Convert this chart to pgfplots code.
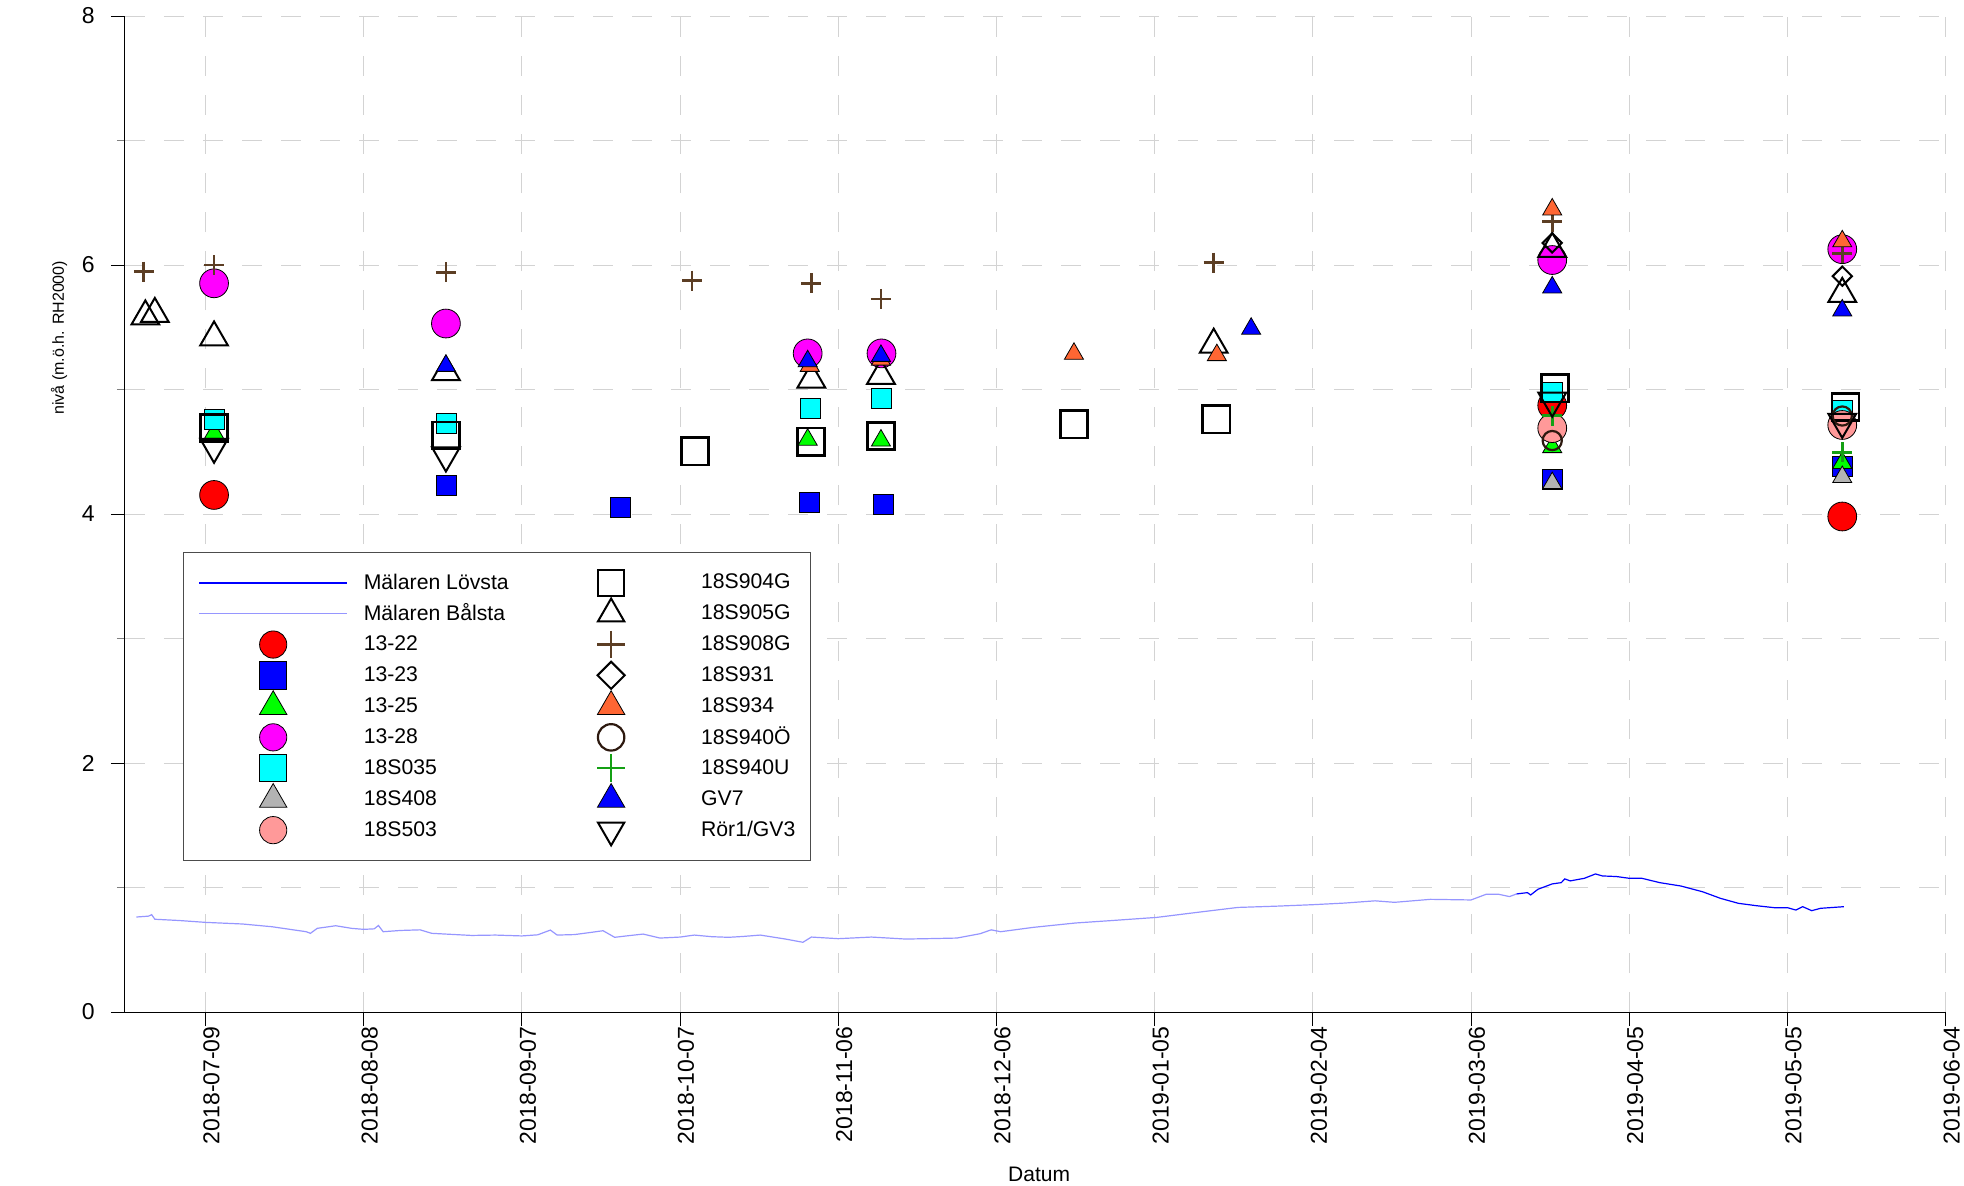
\documentclass[border=0pt]{standalone}
\usepackage{pgfplots}
\pgfplotsset{compat=1.18}
\usepackage{fontspec}
\setmainfont{Liberation Sans}
\definecolor{lovsta}{RGB}{0,0,255}
\definecolor{balsta}{RGB}{150,150,255}
\definecolor{gridc}{RGB}{211,211,211}
\definecolor{c1322}{RGB}{255,0,0}
\definecolor{c1323}{RGB}{0,0,255}
\definecolor{c1325}{RGB}{0,255,0}
\definecolor{c1328}{RGB}{255,0,255}
\definecolor{c035}{RGB}{0,255,255}
\definecolor{c408}{RGB}{179,179,179}
\definecolor{c503}{RGB}{255,153,153}
\definecolor{c908}{RGB}{92,62,36}
\definecolor{c934}{RGB}{255,102,51}
\definecolor{c940o}{RGB}{45,25,15}
\definecolor{c940u}{RGB}{20,160,20}
\definecolor{cgv7}{RGB}{0,0,255}
\pgfplotsset{
  legmark/.style={legend image code/.code={\path[draw=none,fill=none] (0pt,-7.7pt) rectangle (74pt,7.7pt); \draw[##1] plot coordinates {(37pt,0pt)};}},
  legline/.style={legend image code/.code={\path[draw=none,fill=none] (0pt,-7.7pt) rectangle (74pt,7.7pt); \draw[##1] (0pt,0pt) -- (74pt,0pt);}},
}
\begin{document}
\begin{tikzpicture}
\useasboundingbox (-62.5pt,-86.5pt) rectangle (919.5pt,506pt);
\begin{axis}[
  at={(0pt,0pt)}, anchor=south west,
  scale only axis, width=910.3pt, height=498pt,
  xmin=-15.26, xmax=330, ymin=0, ymax=8,
  axis lines*=left,
  axis line style={line width=0.5pt, black},
  clip=false,
  /pgf/number format/assume math mode=true,
  xtick={0,30,...,330},
  xticklabels={2018-07-09,2018-08-08,2018-09-07,2018-10-07,2018-11-06,2018-12-06,2019-01-05,2019-02-04,2019-03-06,2019-04-05,2019-05-05,2019-06-04},
  ytick={0,2,4,6,8},
  minor ytick={1,3,5,7},
  tick align=outside,
  major tick length=7pt,
  minor tick length=4pt,
  major tick style={line width=0.5pt, black},
  minor tick style={line width=0.5pt, gray},
  grid=both,
  major grid style={gridc, line width=0.5pt, dash pattern=on 10pt off 9.5pt},
  minor grid style={gridc, line width=0.5pt, dash pattern=on 10pt off 9.5pt},
  xticklabel style={rotate=90, anchor=east, inner sep=0pt, yshift=-3pt, font=\fontsize{11.5}{13}\selectfont},
  yticklabel style={anchor=east, inner sep=0pt, xshift=-8pt, font=\fontsize{11.5}{13}\selectfont},
  xlabel={Datum},
  ylabel={nivå (m.ö.h. RH2000)},
  every axis x label/.style={at={(axis description cs:0.5021,-0.1627)}, anchor=center, font=\fontsize{10.5}{12}\selectfont},
  every axis y label/.style={at={(axis description cs:-0.0362,0.677)}, rotate=90, anchor=center, font=\fontsize{8}{10}\selectfont},
  legend columns=9, transpose legend,
  legend cell align=left,
  legend style={
    at={(axis description cs:0.0319,0.4618)}, anchor=north west,
    draw=black!70, line width=0.5pt, fill=white,
    inner xsep=7.5pt, inner ysep=7.5pt,
    font=\fontsize{10.6}{12}\selectfont,
    row sep=0pt,
    nodes={inner sep=0pt},
    /tikz/every odd column/.append style={column sep=8pt},
    /tikz/every even column/.append style={column sep=14.2pt},
  },
]
% lake levels
\addplot[legline, color=lovsta, line width=0.6pt, mark=none] coordinates {
(248.6,0.948) (250.7,0.959) (251.3,0.940) (252.7,0.986) (255.4,1.029) (257.1,1.039) (257.8,1.069) (258.8,1.053) (261.5,1.074) (263.6,1.109) (264.9,1.093) (267.6,1.088) (270,1.074) (272.4,1.074) (275.8,1.039) (279.8,1.012) (283.9,0.966) (287.3,0.913) (290.7,0.873) (294.1,0.854) (297.5,0.838) (300,0.838) (301.6,0.819) (302.9,0.846) (304.6,0.814) (306.3,0.833) (310.7,0.846)
};
\addlegendentry{Mälaren Lövsta}
\addplot[legline, color=balsta, line width=0.6pt, mark=none] coordinates {
(-13.1,0.763) (-10.8,0.770) (-10.2,0.782) (-9.6,0.745) (-5,0.735) (0,0.72) (7,0.707) (12.6,0.685) (19.1,0.645) (19.9,0.632) (21.2,0.672) (24.7,0.693) (27.7,0.672) (30,0.664) (32,0.668) (32.8,0.695) (33.7,0.645) (37,0.655) (40.7,0.660) (42.9,0.632) (46,0.625) (50.5,0.615) (55,0.618) (60,0.611) (63,0.620) (65.4,0.658) (66.7,0.618) (70,0.622) (73.2,0.640) (75.4,0.653) (77.6,0.600) (80,0.612) (83,0.626) (86.2,0.594) (90,0.602) (92.7,0.618) (96,0.605) (99.2,0.600) (102,0.607) (105.2,0.618) (110,0.586) (113.3,0.560) (114.9,0.602) (120,0.589) (126.3,0.602) (132.8,0.586) (138,0.590) (142.5,0.594) (146.9,0.629) (149,0.660) (150.8,0.645) (157,0.680) (165,0.715) (172,0.735) (180.4,0.760) (188,0.800) (195.8,0.840) (203,0.850) (210,0.862) (216,0.875) (221.8,0.893) (225.5,0.881) (232.3,0.905) (240,0.900) (242.9,0.946) (245.2,0.946) (247.3,0.927) (248.6,0.948)
};
\addlegendentry{Mälaren Bålsta}
% 13-22
\addplot[only marks, legmark, mark=*, mark size=7.2pt, mark options={draw=black, fill=c1322, line width=0.4pt}, legend image post style={mark size=6.8pt}] coordinates {
(1.63,4.153) (255.4,4.873) (310.4,3.98)
};
\addlegendentry{13-22}
% 13-23
\addplot[only marks, legmark, mark=square*, mark size=5pt, mark options={draw=black, fill=c1323, line width=0.4pt}, legend image post style={mark size=6.8pt}] coordinates {
(45.6,4.23) (78.6,4.05) (114.5,4.09) (128.5,4.08) (255.4,4.28) (310.4,4.383)
};
\addlegendentry{13-23}
% 13-25
\addplot[only marks, legmark, mark=triangle*, mark size=5.5pt, mark options={draw=black, fill=c1325, line width=0.4pt}, legend image post style={mark size=7.9pt}] coordinates {
(1.63,4.652) (114.2,4.597) (128.1,4.59) (255.4,4.537) (310.4,4.41)
};
\addlegendentry{13-25}
% 13-28
\addplot[only marks, legmark, mark=*, mark size=7.2pt, mark options={draw=black, fill=c1328, line width=0.4pt}, legend image post style={mark size=6.8pt}] coordinates {
(1.63,5.853) (45.6,5.53) (114.2,5.29) (128.2,5.29) (255.4,6.04) (310.4,6.127)
};
\addlegendentry{13-28}
% 18S035
\addplot[only marks, legmark, mark=square*, mark size=5pt, mark options={draw=black, fill=c035, line width=0.4pt}, legend image post style={mark size=6.8pt}] coordinates {
(1.63,4.757) (45.6,4.73) (114.7,4.85) (128.1,4.93) (255.4,4.98) (310.4,4.83)
};
\addlegendentry{18S035}
% 18S408
\addplot[only marks, legmark, mark=triangle*, mark size=5.5pt, mark options={draw=black, fill=c408, line width=0.4pt}, legend image post style={mark size=7.9pt}] coordinates {
(255.4,4.248) (310.4,4.297)
};
\addlegendentry{18S408}
% 18S503
\addplot[only marks, legmark, mark=*, mark size=7.2pt, mark options={draw=black, fill=c503, line width=0.4pt}, legend image post style={mark size=6.8pt}] coordinates {
(255.4,4.69) (310.4,4.715)
};
\addlegendentry{18S503}
% 18S904G
\addplot[only marks, legmark, mark=square, mark size=6.8pt, mark options={draw=black, line width=1.3pt}, legend image post style={mark size=6.5pt}] coordinates {
(1.63,4.69) (45.6,4.63) (92.8,4.504) (114.8,4.58) (128.1,4.628) (164.7,4.72) (191.7,4.76) (255.9,5.01) (311.0,4.861)
};
\addlegendentry{18S904G}
% 18S905G
\addplot[only marks, legmark, mark=triangle, mark size=8pt, mark options={draw=black, line width=1pt}, legend image post style={mark size=7.6pt}] coordinates {
(-11.4,5.587) (-9.6,5.607) (1.63,5.418) (45.6,5.14) (114.9,5.08) (128.1,5.11) (191.2,5.36) (255.4,6.13) (310.4,5.768)
};
\addlegendentry{18S905G}
% 18S908G
\addplot[only marks, legmark, mark=+, mark size=5pt, mark options={draw=c908, line width=1.3pt}, legend image post style={mark size=6.9pt}] coordinates {
(-11.7,5.946) (1.63,6.0) (45.6,5.94) (92.3,5.874) (114.9,5.853) (128.1,5.727) (191.2,6.02) (255.4,6.348) (310.4,6.094)
};
\addlegendentry{18S908G}
% 18S931
\addplot[only marks, legmark, mark=square, mark size=3.4pt, mark options={draw=black, rotate=45, line width=1pt}, legend image post style={mark size=4.8pt}] coordinates {
(255.4,6.177) (310.4,5.91)
};
\addlegendentry{18S931}
% 18S934
\addplot[only marks, legmark, mark=triangle*, mark size=5.5pt, mark options={draw=black, fill=c934, line width=0.4pt}, legend image post style={mark size=7.9pt}] coordinates {
(114.6,5.19) (128.1,5.24) (164.7,5.287) (191.8,5.276) (255.4,6.446) (310.4,6.19)
};
\addlegendentry{18S934}
% 18S940Ö
\addplot[only marks, legmark, mark=o, mark size=4.8pt, mark options={draw=c940o, line width=1.1pt}, legend image post style={mark size=6.6pt}] coordinates {
(255.4,4.59) (310.4,4.787)
};
\addlegendentry{18S940Ö}
% 18S940U
\addplot[only marks, legmark, mark=+, mark size=5pt, mark options={draw=c940u, line width=1.3pt}, legend image post style={mark size=6.9pt}] coordinates {
(255.4,4.79) (310.4,4.495)
};
\addlegendentry{18S940U}
% GV7
\addplot[only marks, legmark, mark=triangle*, mark size=5.5pt, mark options={draw=black, fill=cgv7, line width=0.4pt}, legend image post style={mark size=7.9pt}] coordinates {
(45.6,5.19) (114.2,5.227) (128.1,5.27) (198.3,5.488) (255.4,5.82) (310.4,5.635)
};
\addlegendentry{GV7}
% Rör1/GV3
\addplot[only marks, legmark, mark=triangle, mark size=8pt, mark options={draw=black, rotate=180, line width=1pt}, legend image post style={mark size=7.6pt}] coordinates {
(1.63,4.54) (45.6,4.47) (255.4,4.91) (310.4,4.74)
};
\addlegendentry{Rör1/GV3}
\end{axis}
\end{tikzpicture}
\end{document}
